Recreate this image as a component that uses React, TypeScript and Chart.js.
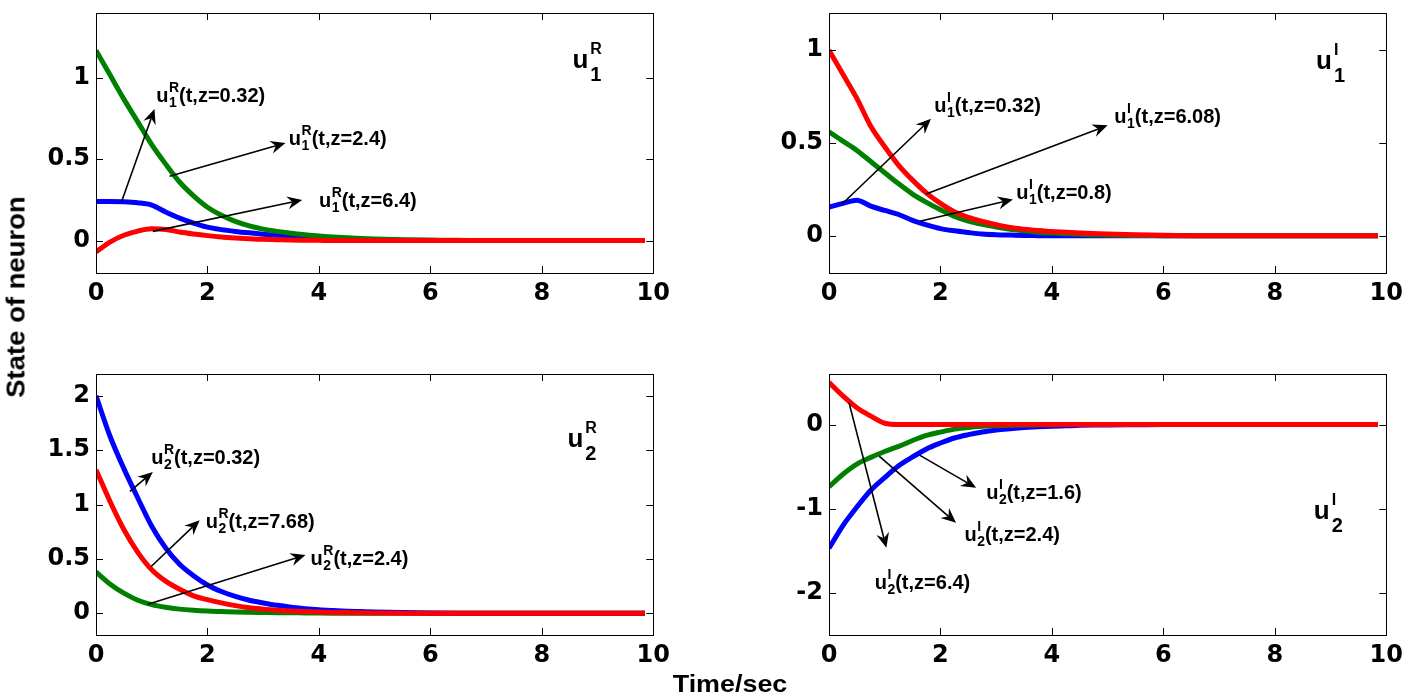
import React, { useEffect, useRef } from "react";
import { Chart, registerables } from "chart.js";

Chart.register(...registerables);

// ---------- data ----------
const T = [0, 0.25, 0.5, 0.75, 1, 1.25, 1.5, 1.75, 2, 2.25, 2.5, 2.75, 3, 3.25, 3.5, 3.75, 4, 4.25, 4.5, 4.75, 5, 5.5, 6, 6.5, 7, 8, 9, 9.85];

// u1^R
const U1R_Z032 = [0.24, 0.24, 0.238, 0.232, 0.218, 0.176, 0.138, 0.107, 0.082, 0.067, 0.056, 0.047, 0.039, 0.032, 0.025, 0.019, 0.014, 0.01, 0.008, 0.006, 0.004, 0.002, 0.001, 0, 0, 0, 0, 0];
const U1R_Z24 = [1.17, 1.02, 0.87, 0.73, 0.59, 0.47, 0.36, 0.275, 0.205, 0.155, 0.118, 0.09, 0.07, 0.056, 0.045, 0.036, 0.028, 0.022, 0.017, 0.013, 0.01, 0.005, 0.002, 0.001, 0, 0, 0, 0];
const U1R_Z64 = [-0.07, -0.01, 0.032, 0.058, 0.072, 0.068, 0.052, 0.04, 0.03, 0.022, 0.016, 0.011, 0.007, 0.005, 0.003, 0.002, 0.001, 0, 0, 0, 0, 0, 0, 0, 0, 0, 0, 0];

// u1^I
const U1I_BLUE = [0.155, 0.175, 0.192, 0.16, 0.137, 0.115, 0.083, 0.059, 0.039, 0.027, 0.018, 0.01, 0.006, 0.004, 0.002, 0.001, 0, 0, 0, 0, 0, 0, 0, 0, 0, 0, 0, 0];
const U1I_GREEN = [0.56, 0.51, 0.46, 0.4, 0.34, 0.28, 0.225, 0.18, 0.14, 0.105, 0.08, 0.062, 0.048, 0.036, 0.027, 0.02, 0.015, 0.011, 0.008, 0.006, 0.004, 0.002, 0.001, 0, 0, 0, 0, 0];
const U1I_RED = [1.0, 0.87, 0.74, 0.59, 0.48, 0.38, 0.3, 0.23, 0.175, 0.13, 0.1, 0.078, 0.06, 0.045, 0.036, 0.029, 0.023, 0.019, 0.016, 0.013, 0.01, 0.006, 0.003, 0.001, 0, 0, 0, 0];

// u2^R
const U2R_Z032 = [2.0, 1.63, 1.33, 1.06, 0.8, 0.6, 0.45, 0.345, 0.26, 0.2, 0.155, 0.12, 0.095, 0.073, 0.056, 0.042, 0.032, 0.025, 0.019, 0.015, 0.011, 0.006, 0.003, 0.001, 0, 0, 0, 0];
const U2R_Z768 = [1.32, 1.03, 0.77, 0.56, 0.4, 0.295, 0.22, 0.16, 0.125, 0.095, 0.07, 0.05, 0.038, 0.028, 0.02, 0.015, 0.011, 0.008, 0.006, 0.004, 0.003, 0.001, 0, 0, 0, 0, 0, 0];
const U2R_Z24 = [0.38, 0.27, 0.185, 0.12, 0.08, 0.055, 0.038, 0.027, 0.02, 0.016, 0.012, 0.009, 0.007, 0.005, 0.004, 0.003, 0.002, 0.001, 0, 0, 0, 0, 0, 0, 0, 0, 0, 0];

// u2^I
const U2I_Z16 = [-1.47, -1.2, -0.98, -0.78, -0.63, -0.49, -0.385, -0.29, -0.22, -0.16, -0.12, -0.088, -0.065, -0.05, -0.037, -0.027, -0.02, -0.015, -0.01, -0.007, -0.005, -0.003, -0.001, 0, 0, 0, 0, 0];
const U2I_Z24 = [-0.74, -0.59, -0.47, -0.39, -0.32, -0.26, -0.19, -0.13, -0.09, -0.055, -0.035, -0.022, -0.014, -0.01, -0.006, -0.004, -0.002, -0.001, 0, 0, 0, 0, 0, 0, 0, 0, 0, 0];
const U2I_Z64 = [0.5, 0.34, 0.2, 0.1, 0.015, 0, 0, 0, 0, 0, 0, 0, 0, 0, 0, 0, 0, 0, 0, 0, 0, 0, 0, 0, 0, 0, 0, 0];

const X_TICKS = [0, 2, 4, 6, 8, 10];
const Y_TICKS_U1R = [0, 0.5, 1];
const Y_TICKS_U1I = [0, 0.5, 1];
const Y_TICKS_U2R = [0, 0.5, 1, 1.5, 2];
const Y_TICKS_U2I = [-2, -1, 0];

const X_LABEL = "Time/sec";
const Y_LABEL = "State of neuron";

// ---------- styles ----------
const FONT = "'Liberation Sans', Arial, Helvetica, sans-serif";
const TICK_FONT = "'DejaVu Sans', 'Liberation Sans', Arial, sans-serif";
const RED = "#ff0000";
const GREEN = "#008000";
const BLUE = "#0000ff";

const AXIS_W = 96;
const AXIS_H = 50;
const PAD_T = 40;
const PAD_R = 20;

type Note = { from: [number, number]; to: [number, number]; at: [number, number]; sub: string; sup: string; tail: string };
type Panel = {
  rect: { left: number; top: number; width: number; height: number };
  yMin: number;
  yMax: number;
  yTicks: number[];
  series: { values: number[]; color: string }[]; // first is drawn on top
  notes: Note[];
  corner: { at: [number, number]; sub: string; sup: string };
};

const PANELS: Panel[] = [
  {
    rect: { left: 96, top: 13, width: 560, height: 260 },
    yMin: -0.2,
    yMax: 1.4,
    yTicks: Y_TICKS_U1R,
    series: [
      { values: U1R_Z64, color: RED },
      { values: U1R_Z24, color: GREEN },
      { values: U1R_Z032, color: BLUE },
    ],
    notes: [
      { from: [0.46, 0.24], to: [1.05, 0.81], at: [1.08, 0.85], sub: "1", sup: "R", tail: "(t,z=0.32)" },
      { from: [1.32, 0.395], to: [3.4, 0.6], at: [3.46, 0.586], sub: "1", sup: "R", tail: "(t,z=2.4)" },
      { from: [1.02, 0.056], to: [3.7, 0.25], at: [4.0, 0.206], sub: "1", sup: "R", tail: "(t,z=6.4)" },
    ],
    corner: { at: [8.55, 1.06], sub: "1", sup: "R" },
  },
  {
    rect: { left: 829, top: 13, width: 560, height: 260 },
    yMin: -0.2,
    yMax: 1.2,
    yTicks: Y_TICKS_U1I,
    series: [
      { values: U1I_RED, color: RED },
      { values: U1I_GREEN, color: GREEN },
      { values: U1I_BLUE, color: BLUE },
    ],
    notes: [
      { from: [0.23, 0.17], to: [1.83, 0.63], at: [1.89, 0.665], sub: "1", sup: "I", tail: "(t,z=0.32)" },
      { from: [1.74, 0.226], to: [5.0, 0.595], at: [5.12, 0.61], sub: "1", sup: "I", tail: "(t,z=6.08)" },
      { from: [1.63, 0.079], to: [3.3, 0.196], at: [3.36, 0.2], sub: "1", sup: "I", tail: "(t,z=0.8)" },
    ],
    corner: { at: [8.74, 0.9], sub: "1", sup: "I" },
  },
  {
    rect: { left: 96, top: 374, width: 560, height: 261 },
    yMin: -0.2,
    yMax: 2.2,
    yTicks: Y_TICKS_U2R,
    series: [
      { values: U2R_Z768, color: RED },
      { values: U2R_Z032, color: BLUE },
      { values: U2R_Z24, color: GREEN },
    ],
    notes: [
      { from: [0.61, 1.12], to: [1.02, 1.3], at: [0.99, 1.376], sub: "2", sup: "R", tail: "(t,z=0.32)" },
      { from: [0.99, 0.43], to: [1.86, 0.856], at: [1.97, 0.78], sub: "2", sup: "R", tail: "(t,z=7.68)" },
      { from: [0.93, 0.083], to: [3.76, 0.535], at: [3.85, 0.44], sub: "2", sup: "R", tail: "(t,z=2.4)" },
    ],
    corner: { at: [8.46, 1.53], sub: "2", sup: "R" },
  },
  {
    rect: { left: 829, top: 374, width: 560, height: 261 },
    yMin: -2.5,
    yMax: 0.6,
    yTicks: Y_TICKS_U2I,
    series: [
      { values: U2I_Z64, color: RED },
      { values: U2I_Z24, color: GREEN },
      { values: U2I_Z16, color: BLUE },
    ],
    notes: [
      { from: [0.36, 0.257], to: [1.03, -1.465], at: [0.82, -1.95], sub: "2", sup: "I", tail: "(t,z=6.4)" },
      { from: [0.9, -0.376], to: [2.28, -1.168], at: [2.43, -1.386], sub: "2", sup: "I", tail: "(t,z=2.4)" },
      { from: [1.625, -0.364], to: [2.64, -0.752], at: [2.82, -0.89], sub: "2", sup: "I", tail: "(t,z=1.6)" },
    ],
    corner: { at: [8.7, -1.12], sub: "2", sup: "I" },
  },
];

// ---------- drawing helpers ----------
function drawULabel(
  ctx: CanvasRenderingContext2D,
  x: number,
  y: number,
  sub: string,
  sup: string,
  tail: string,
  s: { main: number; sub: number; sup: number; subDy: number; supDy: number; gap: number }
) {
  ctx.fillStyle = "#000";
  ctx.textAlign = "left";
  ctx.textBaseline = "alphabetic";
  ctx.font = `bold ${s.main}px ${FONT}`;
  ctx.fillText("u", x, y);
  const cx = x + ctx.measureText("u").width + s.gap;
  ctx.font = `bold ${s.sup}px ${FONT}`;
  ctx.fillText(sup, cx, y + s.supDy);
  const w1 = ctx.measureText(sup).width;
  ctx.font = `bold ${s.sub}px ${FONT}`;
  ctx.fillText(sub, cx, y + s.subDy);
  const w2 = ctx.measureText(sub).width;
  if (tail) {
    ctx.font = `bold ${s.main}px ${FONT}`;
    ctx.fillText(tail, cx + Math.max(w1, w2), y);
  }
}

function drawArrow(ctx: CanvasRenderingContext2D, x0: number, y0: number, x1: number, y1: number) {
  const dx = x1 - x0;
  const dy = y1 - y0;
  const len = Math.hypot(dx, dy) || 1;
  const ux = dx / len;
  const uy = dy / len;
  const px = -uy;
  const py = ux;
  const L = 15;
  const W = 6.5;
  const N = 10;
  ctx.strokeStyle = "#000";
  ctx.fillStyle = "#000";
  ctx.lineWidth = 1.6;
  ctx.beginPath();
  ctx.moveTo(x0, y0);
  ctx.lineTo(x1 - ux * N, y1 - uy * N);
  ctx.stroke();
  ctx.beginPath();
  ctx.moveTo(x1, y1);
  ctx.lineTo(x1 - ux * L + px * W, y1 - uy * L + py * W);
  ctx.lineTo(x1 - ux * N, y1 - uy * N);
  ctx.lineTo(x1 - ux * L - px * W, y1 - uy * L - py * W);
  ctx.closePath();
  ctx.fill();
}

function decorPlugin(p: Panel) {
  return {
    id: "panelDecor",
    afterDraw(chart: any) {
      const ctx: CanvasRenderingContext2D = chart.ctx;
      const { left, right, top, bottom } = chart.chartArea;
      const xs = chart.scales.x;
      const ys = chart.scales.y;
      ctx.save();
      // box
      ctx.strokeStyle = "#000";
      ctx.lineWidth = 1;
      ctx.strokeRect(Math.round(left) + 0.5, Math.round(top) + 0.5, Math.round(right - left), Math.round(bottom - top));
      // inward ticks on all sides
      const TL = 7;
      ctx.beginPath();
      xs.ticks.forEach((t: any) => {
        const px = Math.round(xs.getPixelForValue(t.value)) + 0.5;
        ctx.moveTo(px, bottom);
        ctx.lineTo(px, bottom - TL);
        ctx.moveTo(px, top);
        ctx.lineTo(px, top + TL);
      });
      ys.ticks.forEach((t: any) => {
        const py = Math.round(ys.getPixelForValue(t.value)) + 0.5;
        ctx.moveTo(left, py);
        ctx.lineTo(left + TL, py);
        ctx.moveTo(right, py);
        ctx.lineTo(right - TL, py);
      });
      ctx.stroke();
      // arrows + notes
      p.notes.forEach((n) => {
        drawArrow(
          ctx,
          xs.getPixelForValue(n.from[0]),
          ys.getPixelForValue(n.from[1]),
          xs.getPixelForValue(n.to[0]),
          ys.getPixelForValue(n.to[1])
        );
        drawULabel(ctx, xs.getPixelForValue(n.at[0]), ys.getPixelForValue(n.at[1]), n.sub, n.sup, n.tail, {
          main: 20,
          sub: 14,
          sup: 14,
          subDy: 5,
          supDy: -10,
          gap: 0.5,
        });
      });
      // corner label
      drawULabel(ctx, xs.getPixelForValue(p.corner.at[0]), ys.getPixelForValue(p.corner.at[1]), p.corner.sub, p.corner.sup, "", {
        main: 26,
        sub: 20,
        sup: 16,
        subDy: 13,
        supDy: -14,
        gap: 2,
      });
      ctx.restore();
    },
  };
}

function buildConfig(p: Panel): any {
  const tickFont = { family: TICK_FONT, size: 24, weight: "bold" as const };
  return {
    type: "line",
    data: {
      datasets: p.series.map((s, i) => ({
        data: T.map((t, k) => ({ x: t, y: s.values[k] })),
        borderColor: s.color,
        backgroundColor: s.color,
        borderWidth: 5,
        pointRadius: 0,
        fill: false,
        cubicInterpolationMode: "monotone",
        borderCapStyle: "butt",
        borderJoinStyle: "round",
        order: i,
      })),
    },
    options: {
      animation: false,
      responsive: false,
      devicePixelRatio: 1,
      events: [],
      layout: { padding: { left: 0, top: PAD_T, right: PAD_R, bottom: 0 } },
      plugins: { legend: { display: false }, tooltip: { enabled: false }, title: { display: false } },
      scales: {
        x: {
          type: "linear",
          min: 0,
          max: 10,
          bounds: "data",
          afterBuildTicks: (sc: any) => {
            sc.ticks = X_TICKS.map((v) => ({ value: v }));
          },
          afterFit: (sc: any) => {
            sc.height = AXIS_H;
          },
          grid: { display: false, drawTicks: false },
          border: { display: false },
          ticks: {
            font: tickFont,
            color: "#000",
            padding: 6,
            maxRotation: 0,
            minRotation: 0,
            autoSkip: false,
            callback: (v: any) => String(v),
          },
        },
        y: {
          type: "linear",
          min: p.yMin,
          max: p.yMax,
          bounds: "data",
          afterBuildTicks: (sc: any) => {
            sc.ticks = p.yTicks.map((v) => ({ value: v }));
          },
          afterFit: (sc: any) => {
            sc.width = AXIS_W;
          },
          grid: { display: false, drawTicks: false },
          border: { display: false },
          ticks: {
            font: tickFont,
            color: "#000",
            padding: 6,
            autoSkip: false,
            callback: (v: any) => String(v),
          },
        },
      },
    },
    plugins: [decorPlugin(p)],
  };
}

function PanelChart({ p }: { p: Panel }) {
  const ref = useRef<HTMLCanvasElement | null>(null);
  const w = p.rect.width + AXIS_W + PAD_R;
  const h = p.rect.height + PAD_T + AXIS_H;
  useEffect(() => {
    if (!ref.current) return;
    const chart = new Chart(ref.current, buildConfig(p));
    return () => chart.destroy();
  }, []);
  return (
    <canvas
      ref={ref}
      width={w}
      height={h}
      style={{
        position: "absolute",
        left: p.rect.left - AXIS_W,
        top: p.rect.top - PAD_T,
        width: w,
        height: h,
        display: "block",
      }}
    />
  );
}

export default function App() {
  return (
    <div
      style={{
        position: "absolute",
        left: 0,
        top: 0,
        width: 1411,
        height: 698,
        overflow: "hidden",
        background: "#fff",
      }}
    >
      {PANELS.map((p, i) => (
        <PanelChart key={i} p={p} />
      ))}
      <div
        style={{
          position: "absolute",
          left: 16,
          top: 297,
          transform: "translate(-50%, -50%) rotate(-90deg) scaleX(1.1)",
          font: `bold 25px ${FONT}`,
          lineHeight: "25px",
          whiteSpace: "nowrap",
          color: "#000",
        }}
      >
        {Y_LABEL}
      </div>
      <div
        style={{
          position: "absolute",
          left: 730,
          top: 684,
          transform: "translate(-50%, -50%) scaleX(1.12)",
          font: `bold 24px ${FONT}`,
          lineHeight: "24px",
          whiteSpace: "nowrap",
          color: "#000",
        }}
      >
        {X_LABEL}
      </div>
    </div>
  );
}
